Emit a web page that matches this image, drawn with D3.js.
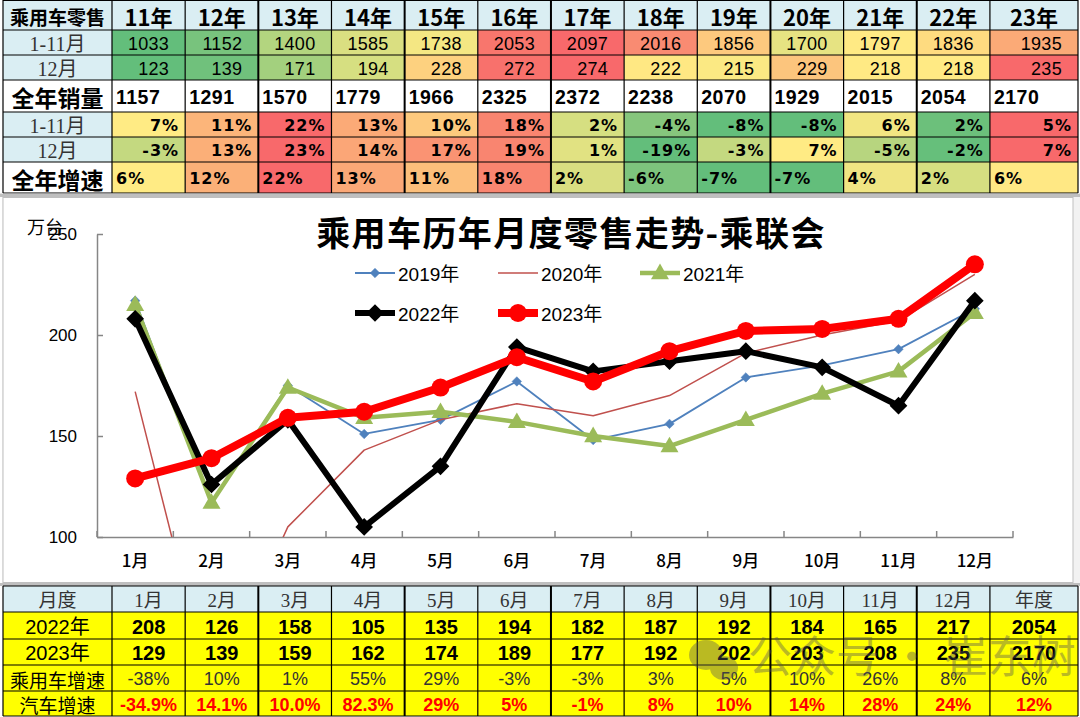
<!DOCTYPE html>
<html><head><meta charset="utf-8">
<script src="https://cdn.jsdelivr.net/npm/d3@7"></script>
<style>html,body{margin:0;padding:0;background:#fff;} svg{display:block}</style>
</head><body><svg id="c" width="1080" height="717"></svg>
<script>
// ---------- DATA ----------
const years = ["11年","12年","13年","14年","15年","16年","17年","18年","19年","20年","21年","22年","23年"];
const salesJanNov = [1033,1152,1400,1585,1738,2053,2097,2016,1856,1700,1797,1836,1935];
const salesDec = [123,139,171,194,228,272,274,222,215,229,218,218,235];
const salesYear = [1157,1291,1570,1779,1966,2325,2372,2238,2070,1929,2015,2054,2170];
const growthJanNov = [7,11,22,13,10,18,2,-4,-8,-8,6,2,5];
const growthDec = [-3,13,23,14,17,19,1,-19,-3,7,-5,-2,7];
const growthYear = [6,12,22,13,11,18,2,-6,-7,-7,4,2,6];

const months = ["1月","2月","3月","4月","5月","6月","7月","8月","9月","10月","11月","12月"];
const s2019 = [217,117,175,151,158,177,148,156,179,185,193,213];
const s2020 = [172,22,105,143,158,166,160,170,191,200,207,230];
const s2021 = [215,117,174,159,162,157,150,145,158,171,182,211];
const s2022 = [208,126,158,105,135,194,182,187,192,184,165,217];
const s2023 = [129,139,159,162,174,189,177,192,202,203,208,235];
const yTicks = [100,150,200,250];

const bottomCols = ["1月","2月","3月","4月","5月","6月","7月","8月","9月","10月","11月","12月","年度"];
const b2022 = [208,126,158,105,135,194,182,187,192,184,165,217,2054];
const b2023 = [129,139,159,162,174,189,177,192,202,203,208,235,2170];
const bPassGrowth = [-38,10,1,55,29,-3,-3,3,5,10,26,8,6];
const bAutoGrowth = ["-34.9%","14.1%","10.0%","82.3%","29%","5%","-1%","8%","10%","14%","28%","24%","12%"];

// ---------- STYLES (heat-map fills) ----------
const fillJanNov = ["#63BE7B","#78C37D","#B3D57F","#DADF81","#F4E783","#F8766D","#F8696B","#F98B72","#FDC97E","#E6E382","#FFEA84","#FEDB80","#FBAA77"];
const fillDec = ["#63BE7B","#70C17C","#A3D07E","#D6DF81","#FDD17F","#F8716C","#F8696B","#FFE883","#FBE983","#FCC57D","#FFEA84","#FFEA84","#F8696B"];
const fillGJanNov = ["#FFEB84","#FCB57A","#F8696B","#FBAA77","#FDCA7E","#F98570","#D6DF81","#86C67D","#63BE7B","#63BE7B","#F2E682","#6CC07B","#F8696B"];
const fillGDec = ["#C4D980","#FBAF78","#F8696B","#FBA677","#FA9373","#F98570","#E1E282","#63BE7B","#C4D980","#FFEB84","#B7D57F","#66BF7B","#F8696B"];
const fillGYear = ["#FFEB84","#FBB078","#F8696B","#FBA877","#FCBF7B","#F98570","#D9DE81","#7DC47D","#63BE7B","#63BE7B","#F0E583","#D6DF81","#FFE884"];

const CJK = "'Noto Sans CJK SC','Noto Sans',sans-serif";
const SER = "'Liberation Serif','Noto Sans CJK SC',serif";
const NUM = "'Liberation Sans','Noto Sans CJK SC',sans-serif";
const PCT = "'DejaVu Sans','Noto Sans CJK SC',sans-serif";
const LBLUE = "#DAEEF3";

const svg = d3.select("#c");
svg.append("rect").attr("width",1080).attr("height",717).attr("fill","#fff");

const edges = d3.range(13).map(i => 112 + i*73.16).concat([1078]);
const X0 = 3;

function rect(x0,x1,y0,y1,fill){
  svg.append("rect").attr("x",x0).attr("y",y0).attr("width",x1-x0).attr("height",y1-y0).attr("fill",fill);
}
function text(x,y,s,o){
  o = o||{};
  svg.append("text").attr("x",x).attr("y",y).text(s)
    .attr("text-anchor",o.anchor||"middle").attr("dominant-baseline","central")
    .attr("font-family",o.font||CJK).attr("font-size",o.size||18)
    .attr("font-weight",o.weight||"normal").attr("fill",o.color||"#000")
    .attr("letter-spacing",o.ls||0);
}
function hline(x0,x1,y,w,c){svg.append("line").attr("x1",x0).attr("x2",x1).attr("y1",y).attr("y2",y).attr("stroke",c||"#000").attr("stroke-width",w||1);}
function vline(x,y0,y1,w,c){svg.append("line").attr("x1",x).attr("x2",x).attr("y1",y0).attr("y2",y1).attr("stroke",c||"#000").attr("stroke-width",w||1);}

// ---------- TOP TABLE ----------
const tRows = [0,30,55,80,112,137,162,193];
const topSpec = [
  {label:"乘用车零售", lab:{size:19,weight:"bold"}, lfill:LBLUE, vals:years, fills:null, cfill:LBLUE, align:"middle", o:{size:22,weight:"bold",font:CJK}},
  {label:"1-11月", lab:{size:20,font:SER,color:"#333"}, lfill:LBLUE, vals:salesJanNov, fills:fillJanNov, align:"end", pad:16, o:{size:18,font:NUM,ls:0.3}},
  {label:"12月", lab:{size:20,font:SER,color:"#333"}, lfill:LBLUE, vals:salesDec, fills:fillDec, align:"end", pad:16, o:{size:18,font:NUM,ls:0.3}},
  {label:"全年销量", lab:{size:23,weight:"bold"}, lfill:"#fff", vals:salesYear, fills:null, cfill:"#fff", align:"start", pad:4, o:{size:19.5,font:NUM,weight:"bold",ls:0.5}},
  {label:"1-11月", lab:{size:20,font:SER,color:"#333"}, lfill:LBLUE, vals:growthJanNov.map(v=>v+"%"), fills:fillGJanNov, align:"end", pad:6, o:{size:16,font:PCT,weight:"bold",ls:1}},
  {label:"12月", lab:{size:20,font:SER,color:"#333"}, lfill:LBLUE, vals:growthDec.map(v=>v+"%"), fills:fillGDec, align:"end", pad:6, o:{size:16,font:PCT,weight:"bold",ls:1}},
  {label:"全年增速", lab:{size:23,weight:"bold"}, lfill:"#fff", vals:growthYear.map(v=>v+"%"), fills:fillGYear, align:"start", pad:4, o:{size:16,font:PCT,weight:"bold",ls:1}}
];
topSpec.forEach((r,ri) => {
  const y0 = tRows[ri], y1 = tRows[ri+1], yc = (y0+y1)/2 + 1;
  rect(X0, edges[0], y0, y1, r.lfill);
  text((X0+edges[0])/2, yc, r.label, r.lab);
  r.vals.forEach((v,i) => {
    const a = edges[i], b = edges[i+1];
    rect(a, b, y0, y1, r.fills ? r.fills[i] : r.cfill);
    const tx = r.align==="middle" ? (a+b)/2 : r.align==="end" ? b - r.pad : a + r.pad;
    text(tx, yc, v, Object.assign({anchor:r.align}, r.o));
  });
});
tRows.forEach(y => hline(X0, 1078, y===0?0.5:y, 1.2));
vline(X0, 0, 193, 1.2);
edges.forEach((x,i) => vline(x, 0, 193, [2,4,6,9,11].includes(i)?2:1.2));
// separator
rect(0, 1080, 193.6, 197, "#BFBFBF");

// ---------- CHART ----------
rect(2, 1080, 197, 584, "#F2F2F2");
svg.append("rect").attr("x",3).attr("y",197.5).attr("width",1070).attr("height",385).attr("fill","#fff").attr("stroke","#BFBFBF").attr("stroke-width",1);

const x = d3.scaleBand().domain(months).range([97,1013]).padding(0);
const y = d3.scaleLinear().domain([100,250]).range([537,234]);
const cx = m => x(m) + x.bandwidth()/2;

const gy = svg.append("g").attr("transform","translate(97,0)")
  .call(d3.axisLeft(y).tickValues(yTicks).tickSizeInner(-6).tickSizeOuter(0).tickPadding(20));
gy.select(".domain").attr("stroke","#868686").attr("stroke-width",1.5);
gy.selectAll(".tick line").attr("stroke","#868686").attr("stroke-width",1.5);
gy.selectAll(".tick text").attr("font-family",NUM).attr("font-size",17).attr("fill","#000");

const gx = svg.append("g").attr("transform","translate(0,537)")
  .call(d3.axisBottom(x).tickSize(0).tickPadding(18));
gx.select(".domain").attr("stroke","#868686").attr("stroke-width",1.5);
gx.selectAll(".tick text").attr("font-family",CJK).attr("font-size",17).attr("fill","#000").attr("font-weight","500");
months.map(m => x(m)).concat([x.range()[1]]).forEach(px => {
  svg.append("line").attr("x1",px).attr("x2",px).attr("y1",537).attr("y2",531).attr("stroke","#868686").attr("stroke-width",1.5);
});

text(45, 226, "万台", {size:18, font:CJK, anchor:"middle"});
text(571, 231, "乘用车历年月度零售走势-乘联会", {size:34, weight:"bold", ls:1.4});

svg.append("clipPath").attr("id","clip").append("rect").attr("x",90).attr("y",198).attr("width",940).attr("height",339);

const series = [
  {name:"2019年", vals:s2019, color:"#4F81BD", w:1.8, mk:"diamond", ms:45},
  {name:"2020年", vals:s2020, color:"#C0504D", w:1.5, mk:null},
  {name:"2021年", vals:s2021, color:"#9BBB59", w:4.5, mk:"triangle", ms:140},
  {name:"2022年", vals:s2022, color:"#000000", w:6, mk:"diamond", ms:90},
  {name:"2023年", vals:s2023, color:"#FF0000", w:8, mk:"circle", ms:9}
];
const line = d3.line().x((d,i) => cx(months[i])).y(d => y(d));

function marker(g, s, px, py){
  if (s.mk === "diamond") {
    g.append("path").attr("d", d3.symbol(d3.symbolSquare, s.ms)())
      .attr("transform",`translate(${px},${py}) rotate(45)`).attr("fill",s.color)
      .attr("stroke",s.color).attr("stroke-width", s.w>3?3:0.5);
  } else if (s.mk === "triangle") {
    g.append("path").attr("d", d3.symbol(d3.symbolTriangle, s.ms)())
      .attr("transform",`translate(${px},${py+1})`).attr("fill",s.color);
  } else if (s.mk === "circle") {
    g.append("circle").attr("cx",px).attr("cy",py).attr("r",s.ms).attr("fill",s.color);
  }
}

series.forEach(s => {
  const g = svg.append("g");
  g.append("path").datum(s.vals).attr("d", line).attr("fill","none")
    .attr("stroke", s.color).attr("stroke-width", s.w).attr("stroke-linejoin","round")
    .attr("clip-path","url(#clip)");
  if (s.mk) s.vals.forEach((v,i) => marker(g, s, cx(months[i]), y(v)));
});

// legend
const legPos = [[355,273],[498,273],[640,273],[355,313],[498,313]];
series.forEach((s,i) => {
  const [lx,ly] = legPos[i];
  const g = svg.append("g");
  g.append("line").attr("x1",lx).attr("x2",lx+40).attr("y1",ly).attr("y2",ly)
    .attr("stroke",s.color).attr("stroke-width",s.w);
  if (s.mk) marker(g, s, lx+20, ly);
  text(lx+43, ly+1, s.name, {anchor:"start", size:19, font:NUM});
});

// ---------- BOTTOM TABLE ----------
rect(0, 1080, 583, 586, "#BFBFBF");
const bRows = [586,612,639,665,691,716];
const bSpec = [
  {label:"月度", lab:{size:19,font:SER,color:"#333"}, fill:LBLUE, vals:bottomCols, o:{size:19,font:SER,color:"#333"}},
  {label:"2022年", lab:{size:20,font:NUM}, fill:"#FFFF00", vals:b2022, o:{size:20,font:NUM,weight:"bold"}},
  {label:"2023年", lab:{size:20,font:NUM}, fill:"#FFFF00", vals:b2023, o:{size:20,font:NUM,weight:"bold"}},
  {label:"乘用车增速", lab:{size:19}, fill:"#FFFF00", vals:bPassGrowth.map(v=>v+"%"), o:{size:18,font:NUM,color:"#333"}},
  {label:"汽车增速", lab:{size:19}, fill:"#FFFF00", vals:bAutoGrowth, o:{size:18,font:NUM,weight:"bold",color:"#FF0000"}}
];
bSpec.forEach((r,ri) => {
  const y0 = bRows[ri], y1 = bRows[ri+1], yc = (y0+y1)/2 + 1;
  rect(X0, 1078, y0, y1, r.fill);
  text((X0+edges[0])/2, yc, r.label, r.lab);
  r.vals.forEach((v,i) => text((edges[i]+edges[i+1])/2, yc, v, r.o));
});
bRows.forEach(yy => hline(X0, 1078, yy, 1.2));
vline(X0, 586, 716, 1.2);
edges.forEach((xx,i) => vline(xx, 586, 716, [2,4,6,9,11].includes(i)?2:1.2));

// watermark
const wm = svg.append("g").attr("opacity",0.4);
wm.append("ellipse").attr("cx",706).attr("cy",655).attr("rx",17).attr("ry",15).attr("fill","#555");
wm.append("ellipse").attr("cx",724).attr("cy",668).attr("rx",14).attr("ry",12).attr("fill","#555");
wm.append("text").attr("x",748).attr("y",673).text("公众号 · 崔东树")
  .attr("font-family",CJK).attr("font-size",44).attr("fill","#555");
</script></body></html>
